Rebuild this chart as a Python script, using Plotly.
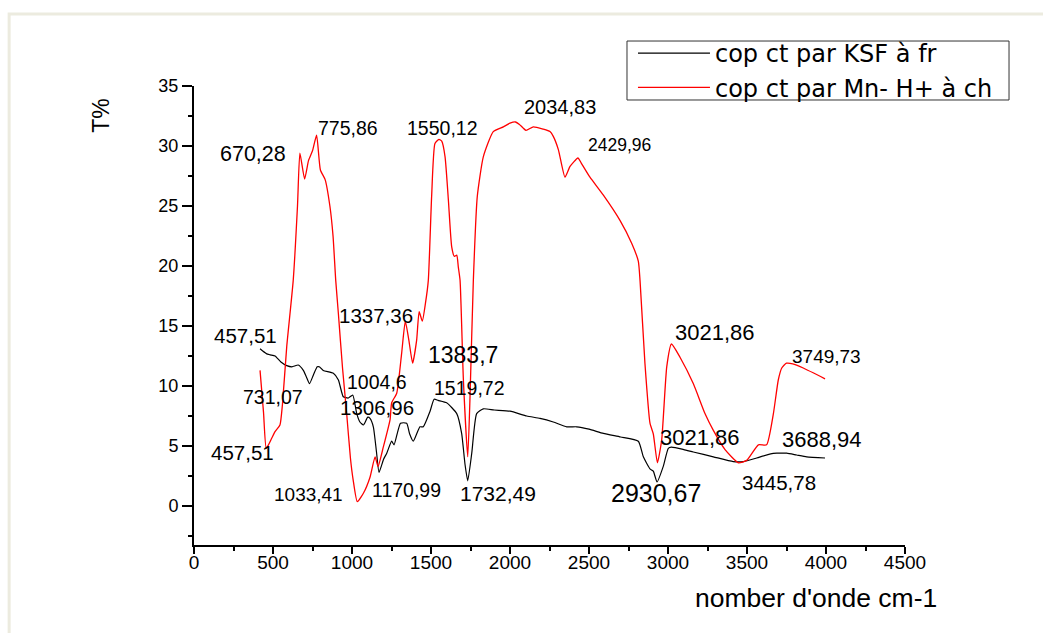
import plotly.graph_objects as go

# IR transmittance spectra (wavenumber in cm-1, transmittance in %)
ksf_wavenumber = [418, 457.51, 481, 513, 550, 587, 620, 660, 692, 710, 731.07, 755, 780, 793, 818, 882,
                  914, 945, 977, 1004.6, 1030, 1050, 1072, 1100, 1114, 1135, 1155, 1170.99, 1200, 1220,
                  1251, 1266, 1306.96, 1346, 1365, 1388, 1430, 1451, 1494, 1519.72, 1545, 1599, 1663,
                  1694, 1715, 1732.49, 1758, 1789, 1831, 1900, 2000, 2106, 2190, 2274, 2359, 2422, 2500,
                  2591, 2700, 2812, 2844, 2886, 2907, 2930.67, 2970, 3002, 3021.86, 3100, 3160, 3287,
                  3413, 3477, 3561, 3650, 3688.94, 3751, 3814, 3878, 3994]
ksf_transmittance = [13.1, 12.7, 12.6, 12.5, 12.0, 11.7, 11.6, 11.75, 11.3, 10.8, 10.2, 10.9, 11.6, 11.6,
                     11.3, 11.06, 10.5, 9.1, 9.0, 9.25, 7.7, 7.0, 6.75, 7.4, 7.3, 6.6, 4.5, 2.8, 3.9, 4.4,
                     5.4, 5.1, 6.9, 6.9, 6.0, 5.4, 6.6, 6.6, 7.9, 8.9, 8.8, 8.6, 7.7, 6.05, 3.5, 2.1, 4.4,
                     7.7, 8.1, 8.0, 7.9, 7.5, 7.3, 7.0, 6.6, 6.6, 6.4, 6.05, 5.75, 5.4, 4.1, 3.1, 2.9, 2.0,
                     3.3, 4.8, 4.9, 4.7, 4.5, 4.1, 3.7, 3.7, 4.0, 4.35, 4.4, 4.4, 4.25, 4.1, 4.0]

mn_wavenumber = [418, 440, 457.51, 490, 513, 544, 560, 587, 628, 655, 670.28, 700, 725, 750, 775.86, 800,
                 830, 860, 880, 897, 914, 940, 966, 990, 1007, 1033.41, 1072, 1114, 1146, 1165, 1198,
                 1241, 1251, 1283, 1314, 1337.36, 1360, 1383.7, 1409, 1425, 1445, 1465, 1483, 1504, 1525,
                 1550.12, 1568, 1589, 1610, 1631, 1648, 1663, 1673, 1684, 1705, 1732.49, 1747, 1768,
                 1793, 1831, 1894, 1958, 2000, 2034.83, 2060, 2101, 2148, 2211, 2253, 2274, 2306, 2348,
                 2380, 2429.96, 2450, 2506, 2591, 2696, 2770, 2812, 2823, 2854, 2886, 2907, 2933, 2960,
                 2992, 3021.86, 3076, 3160, 3234, 3287, 3361, 3445.78, 3498, 3572, 3624, 3667, 3698,
                 3720, 3749.73, 3790, 3856, 3994]
mn_transmittance = [11.3, 7.8, 4.8, 5.6, 6.2, 6.75, 8.5, 13.3, 18.8, 25.0, 29.4, 27.25, 28.8, 29.6, 30.9,
                    28.0, 27.2, 25.0, 22.5, 18.8, 16.0, 11.5, 7.75, 4.0, 2.2, 0.36, 1.06, 2.4, 4.1, 3.3,
                    4.9, 7.2, 8.6, 9.4, 12.7, 15.4, 13.8, 11.9, 13.8, 16.2, 15.4, 16.9, 18.8, 25.8, 30.2,
                    30.55, 30.4, 29.1, 25.5, 21.6, 20.8, 20.9, 19.9, 18.8, 10.5, 4.1, 9.1, 18.8, 25.8,
                    29.1, 31.2, 31.6, 31.9, 32.0, 31.8, 31.3, 31.6, 31.4, 31.2, 30.8, 29.7, 27.4, 28.3,
                    29.0, 28.6, 27.4, 25.9, 23.8, 21.9, 20.4, 18.8, 11.9, 6.9, 6.0, 3.6, 5.5, 11.6, 13.5,
                    12.4, 10.2, 7.7, 6.3, 4.7, 3.6, 3.8, 5.1, 5.1, 7.7, 10.5, 11.5, 11.9, 11.85, 11.5,
                    10.6]

series_names = ["cop ct par KSF à fr", "cop ct par Mn- H+ à ch"]

# Peak labels: text, anchor x, anchor y, font size
peak_labels = ["670,28", "775,86", "1550,12", "2034,83", "2429,96", "457,51", "731,07", "457,51",
               "1337,36", "1383,7", "1004,6", "1306,96", "1519,72", "1033,41", "1170,99", "1732,49",
               "3021,86", "3021,86", "2930,67", "3688,94", "3445,78", "3749,73"]
label_x = [373, 975, 1570, 2316, 2690, 329, 500, 310, 1152, 1703, 1158, 1158, 1741, 722, 1348, 1924,
           3297, 3203, 2924, 3975, 3703, 4006]
label_y = [29.33, 31.5, 31.5, 33.25, 30.1, 14.25, 9.08, 4.42, 15.9, 12.6, 10.33, 8.25, 9.83, 0.92, 1.33,
           1.08, 14.42, 5.67, 1.08, 5.58, 2.0, 12.5]
label_size = [21.5, 19.5, 19.5, 20, 17.5, 20.5, 19.5, 20.5, 20.5, 23, 19.5, 20.5, 19.5, 19, 19.5, 21,
              22, 22, 25, 22, 20.5, 19]

FONT = "Liberation Sans, Arial, sans-serif"
LEGEND_FONT = "DejaVu Sans, sans-serif"

fig = go.Figure()
fig.add_trace(go.Scatter(x=ksf_wavenumber, y=ksf_transmittance, mode="lines", name=series_names[0],
                         line=dict(color="black", width=1.2, shape="spline", smoothing=0.5)))
fig.add_trace(go.Scatter(x=mn_wavenumber, y=mn_transmittance, mode="lines", name=series_names[1],
                         line=dict(color="#ff0000", width=1.3, shape="spline", smoothing=0.5)))

for txt, lx, ly, fs in zip(peak_labels, label_x, label_y, label_size):
    fig.add_annotation(x=lx, y=ly, text=txt, showarrow=False, xref="x", yref="y",
                       xanchor="center", yanchor="middle",
                       font=dict(family=FONT, size=fs, color="black"))

# axis titles
fig.add_annotation(x=0.875, y=-0.1155, xref="paper", yref="paper", text="nomber d'onde cm-1",
                   showarrow=False, xanchor="center", yanchor="middle",
                   font=dict(family=FONT, size=26.5, color="black"))
fig.add_annotation(x=-0.131, y=0.937, xref="paper", yref="paper", text="T%", textangle=-90,
                   showarrow=False, xanchor="center", yanchor="middle",
                   font=dict(family=FONT, size=23, color="black"))

# light outer frame
fig.add_shape(type="rect", xref="paper", yref="paper", x0=-0.260, x1=1.21, y0=-0.21, y1=1.157,
              line=dict(color="#ecebdf", width=3), layer="below")
# legend border
fig.add_shape(type="rect", xref="paper", yref="paper", x0=0.609, x1=1.1463, y0=0.9695, y1=1.098,
              line=dict(color="#333333", width=1), fillcolor="white", layer="below")

fig.update_layout(
    width=1043, height=633, autosize=False,
    margin=dict(l=194, r=138, t=86, b=88),
    paper_bgcolor="white", plot_bgcolor="white",
    font=dict(family=FONT, color="black"),
    showlegend=True,
    legend=dict(x=0.6174, y=1.1198, xanchor="left", yanchor="top", bgcolor="rgba(0,0,0,0)",
                borderwidth=0,
                font=dict(family=LEGEND_FONT, size=24, color="black"),
                itemwidth=72, tracegroupgap=0),
)
fig.update_xaxes(range=[0, 4500], tick0=0, dtick=500, ticks="outside", ticklen=7, tickwidth=1.5,
                 tickcolor="black", showline=True, linecolor="black", linewidth=2, showgrid=False,
                 zeroline=False, ticklabelstandoff=-8,
                 tickfont=dict(family=FONT, size=19, color="black"),
                 minor=dict(dtick=250, ticks="outside", ticklen=4, tickwidth=1.5, tickcolor="black",
                            showgrid=False))
fig.update_yaxes(range=[-3.25, 35], tickvals=[0, 5, 10, 15, 20, 25, 30, 35], ticks="outside",
                 ticklen=10, tickwidth=1.5, tickcolor="black", showline=True, linecolor="black",
                 linewidth=2, showgrid=False, zeroline=False,
                 tickfont=dict(family=FONT, size=18, color="black"),
                 minor=dict(tick0=0, dtick=2.5, ticks="outside", ticklen=4, tickwidth=1.5,
                            tickcolor="black", showgrid=False))

fig.write_html("out.html")
